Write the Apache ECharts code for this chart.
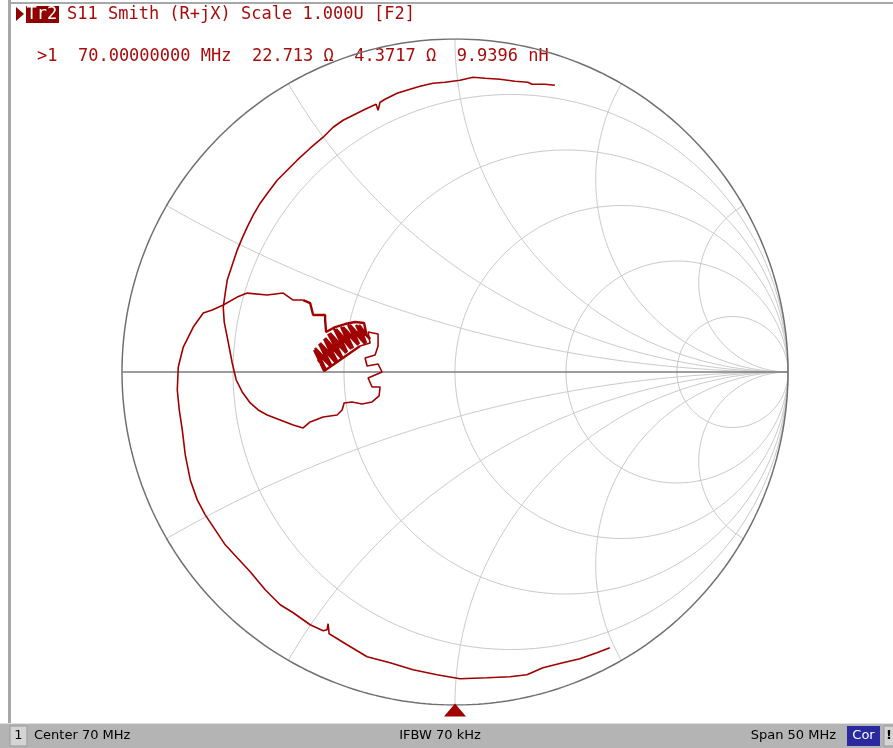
<!DOCTYPE html>
<html><head><meta charset="utf-8">
<script src="https://cdn.jsdelivr.net/npm/echarts@6/dist/echarts.min.js"></script>
<style>html,body{margin:0;padding:0;background:#fff}#c{width:893px;height:748px}</style>
</head><body><div id="c"></div>
<script>
// Reflection coefficient trace (Gamma real / imag), read from the picture
// sweep part 1: from the top-right end round to the cluster
const sweepStartRe = [0.300,0.270,0.231,0.225,0.219,0.180,0.135,0.090,0.054,0.015,-0.030,-0.066,-0.105,-0.135,-0.174,-0.210,-0.225,-0.231,-0.237,-0.270,-0.306,-0.336,-0.366,-0.396,-0.435,-0.474,-0.504,-0.534,-0.561,-0.585,-0.606,-0.624,-0.639,-0.654,-0.669,-0.684,-0.690,-0.696,-0.693,-0.684,-0.669,-0.657,-0.639,-0.615,-0.591,-0.564,-0.525,-0.486,-0.456,-0.435,-0.396,-0.354,-0.339,-0.333,-0.309,-0.279,-0.249,-0.228,-0.225,-0.249,-0.261,-0.219,-0.231,-0.264,-0.270,-0.240,-0.231,-0.231,-0.261,-0.255,-0.285];
const sweepStartIm = [0.861,0.864,0.864,0.858,0.870,0.873,0.879,0.882,0.885,0.876,0.870,0.867,0.858,0.849,0.837,0.819,0.810,0.786,0.804,0.789,0.771,0.756,0.735,0.705,0.672,0.636,0.606,0.576,0.540,0.507,0.471,0.435,0.402,0.366,0.321,0.276,0.237,0.195,0.150,0.105,0.027,-0.024,-0.060,-0.093,-0.114,-0.129,-0.144,-0.159,-0.168,-0.150,-0.135,-0.129,-0.114,-0.093,-0.090,-0.096,-0.090,-0.072,-0.045,-0.045,-0.018,0.000,0.024,0.018,0.042,0.051,0.078,0.114,0.120,0.087,0.078];
// dense cluster around the 70 MHz marker
const clusterRe = [-0.393,-0.423,-0.375,-0.408,-0.360,-0.393,-0.342,-0.381,-0.327,-0.363,-0.312,-0.342,-0.291,-0.321,-0.270,-0.297,-0.255,
  -0.288,-0.267,-0.315,-0.288,-0.336,-0.306,-0.357,-0.324,-0.375,-0.339,-0.390,-0.354,-0.405,-0.372,-0.420,-0.387,
  -0.411,-0.387,-0.393,-0.366,-0.372,-0.345,-0.351,-0.324,-0.330,-0.303,-0.309,-0.282,-0.267,
  -0.273,-0.300,-0.330,-0.360,-0.387,-0.390,-0.390,-0.426,-0.435,-0.456];
const clusterIm = [0.003,0.066,0.018,0.084,0.030,0.099,0.042,0.114,0.057,0.129,0.069,0.135,0.081,0.141,0.084,0.141,0.099,
  0.141,0.087,0.141,0.084,0.135,0.072,0.129,0.060,0.117,0.045,0.102,0.033,0.087,0.021,0.072,0.006,
  0.036,0.060,0.042,0.075,0.057,0.090,0.072,0.105,0.087,0.120,0.102,0.129,0.117,
  0.147,0.150,0.144,0.135,0.120,0.156,0.171,0.171,0.207,0.216];
// sweep part 2: from the cluster out to the bottom-right end
const sweepEndRe = [-0.486,-0.516,-0.564,-0.624,-0.654,-0.696,-0.729,-0.756,-0.786,-0.801,-0.816,-0.831,-0.834,-0.828,-0.819,-0.810,-0.795,-0.774,-0.750,-0.720,-0.690,-0.654,-0.615,-0.570,-0.525,-0.486,-0.435,-0.396,-0.384,-0.381,-0.378,-0.324,-0.264,-0.195,-0.126,-0.054,0.015,0.096,0.165,0.216,0.264,0.324,0.375,0.426,0.465];
const sweepEndIm = [0.216,0.237,0.231,0.237,0.225,0.201,0.186,0.177,0.135,0.105,0.075,0.015,-0.054,-0.114,-0.174,-0.249,-0.324,-0.384,-0.429,-0.474,-0.519,-0.558,-0.600,-0.654,-0.699,-0.723,-0.759,-0.777,-0.774,-0.756,-0.786,-0.819,-0.855,-0.873,-0.894,-0.909,-0.921,-0.918,-0.915,-0.909,-0.888,-0.873,-0.861,-0.843,-0.828];

// Smith chart grid values
const resistanceCircles = [0.2, 0.5, 1, 2, 5];
const reactanceArcs = [0.268, 0.577, 1, 1.732, 3.732, -0.268, -0.577, -1, -1.732, -3.732];
const stimulusMarker = [[0, -1]];

const headerText = 'S11 Smith (R+jX) Scale 1.000U [F2]';
const markerText = '>1  70.00000000 MHz  22.713 \u03a9  4.3717 \u03a9  9.9396 nH';

function gamma(r, x) {
  const d = (r + 1) * (r + 1) + x * x;
  return [(r * r - 1 + x * x) / d, (2 * x) / d];
}
function rCircle(r) {
  const c = r / (1 + r), rad = 1 / (1 + r), pts = [];
  for (let i = 0; i <= 360; i++) { const a = i * Math.PI / 180; pts.push([c + rad * Math.cos(a), rad * Math.sin(a)]); }
  return pts;
}
function xArc(x) {
  const pts = [];
  for (let i = 0; i < 400; i++) { const s = i / 400 * Math.PI / 2; pts.push(gamma(Math.tan(s), x)); }
  pts.push([1, 0]);
  return pts;
}
const zip = (a, b) => a.map((v, i) => [v, b[i]]);
const partA = zip(sweepStartRe, sweepStartIm);
const partC = zip(clusterRe, clusterIm);
const partB = zip(sweepEndRe, sweepEndIm);

const series = [];
resistanceCircles.forEach(r => series.push({type:'line', data:rCircle(r), symbol:'none', silent:true, lineStyle:{color:'#c9c9c9', width:1}, z:1}));
reactanceArcs.forEach(x => series.push({type:'line', data:xArc(x), symbol:'none', silent:true, lineStyle:{color:'#c9c9c9', width:1}, z:1}));
series.push({type:'line', data:rCircle(0), symbol:'none', silent:true, lineStyle:{color:'#707070', width:1.5}, z:2});
series.push({type:'line', data:[[-1,0],[1,0]], symbol:'none', silent:true, lineStyle:{color:'#7c7c7c', width:1.5}, z:2});
const traceStyle = {color:'#a00000', width:1.6};
series.push({type:'line', data:partA, symbol:'none', lineStyle:traceStyle, z:5});
series.push({type:'line', data:[partA[partA.length-1]].concat(partC), symbol:'none', lineStyle:{color:'#a00000', width:2.4}, z:5});
series.push({type:'line', data:[partC[partC.length-1]].concat(partB), symbol:'none', lineStyle:traceStyle, z:5});
series.push({type:'scatter', data:stimulusMarker, symbol:'triangle', symbolSize:[22,13], symbolOffset:[0,5], itemStyle:{color:'#a00000', opacity:1}, z:6});

const mono = '"DejaVu Sans Mono", monospace';
const sans = '"DejaVu Sans", sans-serif';
const chart = echarts.init(document.getElementById('c'));
chart.setOption({
  animation:false,
  backgroundColor:'#ffffff',
  grid:{left:122, top:39, width:666, height:666},
  xAxis:{type:'value', min:-1, max:1, show:false},
  yAxis:{type:'value', min:-1, max:1, show:false},
  series: series,
  graphic:[
    {type:'rect', shape:{x:8, y:0, width:3, height:724}, style:{fill:'#a8a8a8'}},
    {type:'rect', shape:{x:8, y:2, width:885, height:2}, style:{fill:'#a8a8a8'}},
    {type:'polygon', shape:{points:[[16,7],[16,21],[24,14]]}, style:{fill:'#900000'}},
    {type:'rect', shape:{x:26, y:6, width:33, height:17}, style:{fill:'#900000'}},
    {type:'text', x:26.5, y:14.5, style:{text:'Tr2', font:'17px ' + mono, fill:'#ffffff', verticalAlign:'middle'}},
    {type:'text', x:67, y:14.5, style:{text:headerText, font:'17px ' + mono, fill:'#a80c0c', verticalAlign:'middle'}},
    {type:'text', x:37, y:57, style:{text:markerText, font:'17px ' + mono, fill:'#a80c0c', verticalAlign:'middle'}},
    {type:'rect', shape:{x:0, y:723, width:893, height:25}, style:{fill:'#b4b4b4'}},
    {type:'rect', shape:{x:0, y:723, width:893, height:1}, style:{fill:'#e0e0e0'}},
    {type:'rect', shape:{x:10, y:726, width:17, height:20}, style:{fill:'#d4d4d4', stroke:'#9a9a9a', lineWidth:1}},
    {type:'text', x:18.5, y:736, style:{text:'1', font:'13px ' + sans, fill:'#000', align:'center', verticalAlign:'middle'}},
    {type:'text', x:34, y:736, style:{text:'Center 70 MHz', font:'13px ' + sans, fill:'#000', verticalAlign:'middle'}},
    {type:'text', x:440, y:736, style:{text:'IFBW 70 kHz', font:'13px ' + sans, fill:'#000', align:'center', verticalAlign:'middle'}},
    {type:'text', x:836, y:736, style:{text:'Span 50 MHz', font:'13px ' + sans, fill:'#000', align:'right', verticalAlign:'middle'}},
    {type:'rect', shape:{x:847, y:726, width:33, height:20}, style:{fill:'#2a2a9e'}},
    {type:'text', x:863.5, y:736, style:{text:'Cor', font:'13px ' + sans, fill:'#ffffff', align:'center', verticalAlign:'middle'}},
    {type:'rect', shape:{x:884, y:726, width:10, height:20}, style:{fill:'#d4d4d4', stroke:'#9a9a9a', lineWidth:1}},
    {type:'text', x:889, y:736, style:{text:'!', font:'bold 13px ' + sans, fill:'#000', align:'center', verticalAlign:'middle'}}
  ]
});
</script></body></html>
